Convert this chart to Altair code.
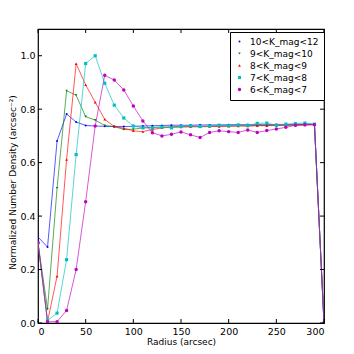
import altair as alt
import pandas as pd

radius = list(range(0, 301, 10))
labels = ["10<K_mag<12", "9<K_mag<10", "8<K_mag<9", "7<K_mag<8", "6<K_mag<7"]
colors = ["#0000FF", "#008000", "#FF0000", "#00BFBF", "#BF00BF"]
shapes = ["circle", "triangle-down", "triangle-up", "square", "circle"]
sizes = [4, 12, 12, 14, 16]

blue = [0.322, 0.284, 0.681, 0.782, 0.752, 0.739, 0.737, 0.736, 0.735, 0.735, 0.736, 0.737, 0.738, 0.739, 0.740, 0.740,
        0.740, 0.741, 0.741, 0.741, 0.742, 0.742, 0.742, 0.742, 0.742, 0.743, 0.743, 0.743, 0.744, 0.744, 0.0]
green = [0.300, 0.052, 0.505, 0.869, 0.852, 0.772, 0.759, 0.739, 0.735, 0.724, 0.725, 0.730, 0.732, 0.733, 0.734, 0.735,
         0.735, 0.736, 0.736, 0.737, 0.737, 0.738, 0.738, 0.739, 0.739, 0.740, 0.740, 0.741, 0.742, 0.742, 0.0]
red = [0.300, 0.005, 0.175, 0.612, 0.970, 0.891, 0.826, 0.762, 0.735, 0.729, 0.719, 0.716, 0.724, 0.730, 0.733, 0.733,
       0.734, 0.734, 0.735, 0.735, 0.736, 0.737, 0.737, 0.738, 0.738, 0.739, 0.740, 0.740, 0.741, 0.742, 0.0]
cyan = [0.300, 0.010, 0.037, 0.237, 0.630, 0.971, 1.000, 0.897, 0.815, 0.767, 0.737, 0.730, 0.730, 0.733, 0.730, 0.736,
        0.738, 0.735, 0.737, 0.740, 0.738, 0.741, 0.740, 0.747, 0.748, 0.740, 0.744, 0.746, 0.748, 0.744, 0.0]
magenta = [0.300, 0.005, 0.005, 0.047, 0.200, 0.454, 0.737, 0.927, 0.909, 0.872, 0.812, 0.756, 0.712, 0.700, 0.706, 0.715,
           0.704, 0.694, 0.713, 0.719, 0.716, 0.713, 0.722, 0.713, 0.720, 0.726, 0.732, 0.740, 0.742, 0.742, 0.0]

x_ticks = [0, 50, 100, 150, 200, 250, 300]
y_ticks = [0.0, 0.2, 0.4, 0.6, 0.8, 1.0]

rows = []
for i, (lab, vals) in enumerate(zip(labels, [blue, green, red, cyan, magenta])):
    for r, v in zip(radius, vals):
        rows.append({"radius": r, "density": v, "series": lab, "order": i})
df = pd.DataFrame(rows)
xt = pd.DataFrame({"t": x_ticks})
yt = pd.DataFrame({"t": y_ticks})

W, H = 286, 294
xscale = alt.Scale(domain=[0, 300], nice=False, zero=False)
yscale = alt.Scale(domain=[0, 1.1], nice=False, zero=False)
cscale = alt.Scale(domain=labels, range=colors)

leg = alt.Legend(title=None, orient="none", legendX=192, legendY=3, fillColor="white",
                 strokeColor="black", padding=5, labelFontSize=9, rowPadding=2, labelOffset=6,
                 symbolStrokeWidth=0, symbolOpacity=1)

base = alt.Chart(df)
lines = base.mark_line(strokeWidth=1, opacity=0.65, clip=True).encode(
    x=alt.X("radius:Q", scale=xscale,
            axis=alt.Axis(values=x_ticks, title="Radius (arcsec)", ticks=False, domain=False, grid=False,
                          labelPadding=3, labelFontSize=9.5, titleFontSize=9, titlePadding=2, format="d")),
    y=alt.Y("density:Q", scale=yscale,
            axis=alt.Axis(values=y_ticks, title="Normalized Number Density (arcsec⁻²)", ticks=False, domain=False,
                          grid=False, format=".1f", labelPadding=3, labelFontSize=9.5, titleFontSize=9,
                          titleX=-26, titleY=153, titleAngle=270, titleAlign="center",
                          titleBaseline="middle")),
    color=alt.Color("series:N", scale=cscale, legend=leg),
    detail="series:N",
    order="radius:Q",
)
points = base.mark_point(filled=True, opacity=1, clip=True, strokeWidth=0).encode(
    x=alt.X("radius:Q", scale=xscale),
    y=alt.Y("density:Q", scale=yscale),
    color=alt.Color("series:N", scale=cscale, legend=leg),
    shape=alt.Shape("series:N", scale=alt.Scale(domain=labels, range=shapes), legend=leg),
    size=alt.Size("series:N", scale=alt.Scale(domain=labels, range=sizes), legend=leg),
)

xb = alt.Chart(xt).mark_rule(color="black", strokeWidth=1).encode(
    x=alt.X("t:Q", scale=xscale), y=alt.value(H), y2=alt.value(H - 4))
xtop = alt.Chart(xt).mark_rule(color="black", strokeWidth=1).encode(
    x=alt.X("t:Q", scale=xscale), y=alt.value(0), y2=alt.value(4))
yl = alt.Chart(yt).mark_rule(color="black", strokeWidth=1).encode(
    y=alt.Y("t:Q", scale=yscale), x=alt.value(0), x2=alt.value(4))
yr = alt.Chart(yt).mark_rule(color="black", strokeWidth=1).encode(
    y=alt.Y("t:Q", scale=yscale), x=alt.value(W), x2=alt.value(W - 4))

chart = alt.layer(lines, points, xb, xtop, yl, yr).properties(
    width=W, height=H,
    autosize=alt.AutoSizeParams(type="none"),
    padding={"left": 30, "top": 21, "right": 20, "bottom": 30},
).configure_view(stroke="black", strokeWidth=1.2).configure_axis(
    labelFont="DejaVu Sans", titleFont="DejaVu Sans", labelColor="black", titleColor="black",
    titleFontWeight="normal"
).configure_legend(labelFont="DejaVu Sans", labelColor="black")

chart.save("out.html", embed_options={"renderer": "svg", "actions": False})
